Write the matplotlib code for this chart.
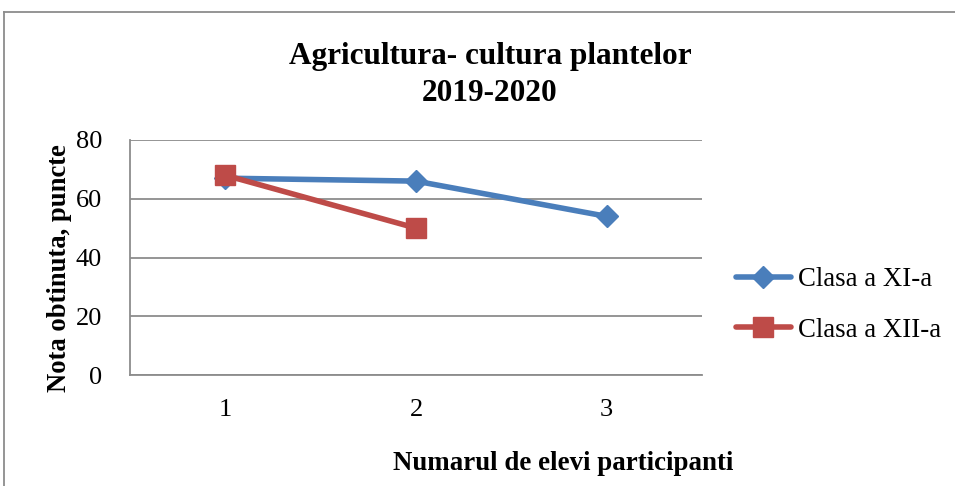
import matplotlib
matplotlib.use("Agg")
import matplotlib.pyplot as plt
from matplotlib.lines import Line2D

categories = [1, 2, 3]
clasa_xi = [67, 66, 54]
clasa_xii = [68, 50]
yticks = [0, 20, 40, 60, 80]
title = "Agricultura- cultura plantelor\n2019-2020"
xlabel = "Numarul de elevi participanti"
ylabel = "Nota obtinuta, puncte"

plt.rcParams['font.family'] = ['Liberation Serif', 'DejaVu Serif']

fig = plt.figure(figsize=(9.55, 4.86), dpi=100)
W, H = 955, 486
ax = fig.add_axes([130 / W, 1 - 375 / H, (702 - 130) / W, (375 - 140) / H])

ax.plot(categories, clasa_xi, color='#4A7EBB', lw=4, marker='D', ms=11,
        label='Clasa a XI-a', solid_capstyle='round', zorder=3)
ax.plot(categories[:len(clasa_xii)], clasa_xii, color='#BE4B48', lw=4, marker='s', ms=14,
        label='Clasa a XII-a', solid_capstyle='round', zorder=4)

ax.set_xlim(0.5, 3.5)
ax.set_ylim(0, 80)
ax.set_yticks(yticks)
ax.set_xticks(categories)
ax.tick_params(length=0, labelsize=19)
ax.tick_params(axis='y', pad=20)
ax.tick_params(axis='x', pad=17)
ax.grid(axis='y', color='#8C8C8C', lw=1.3)
ax.set_axisbelow(True)
for s in ['top', 'right']:
    ax.spines[s].set_visible(False)
for s in ['left', 'bottom']:
    ax.spines[s].set_color('#8C8C8C')
    ax.spines[s].set_linewidth(1.3)

fig.text(490 / W, 1 - 75 / H, title, ha='center', va='center', fontsize=22.5,
         fontweight='bold', linespacing=1.34)
fig.text(563 / W, 1 - 463 / H, xlabel, ha='center', va='center', fontsize=19.4,
         fontweight='bold')
fig.text(60 / W, 1 - 268 / H, ylabel, ha='center', va='center', fontsize=19.2,
         fontweight='bold', rotation=90)

fig.legend(loc='center left', bbox_to_anchor=(736 / W, 1 - 305 / H), frameon=False,
           fontsize=19.3, handlelength=2.05, handletextpad=0.25, labelspacing=0.95,
           borderaxespad=0, borderpad=0)

fig.add_artist(Line2D([4 / W, 4 / W], [-0.1, 1 - 12 / H], transform=fig.transFigure,
                      color='#8C8C8C', lw=1.3))
fig.add_artist(Line2D([4 / W, 1.1], [1 - 12 / H, 1 - 12 / H], transform=fig.transFigure,
                      color='#8C8C8C', lw=1.3))

fig.savefig('out.png', dpi=100)
